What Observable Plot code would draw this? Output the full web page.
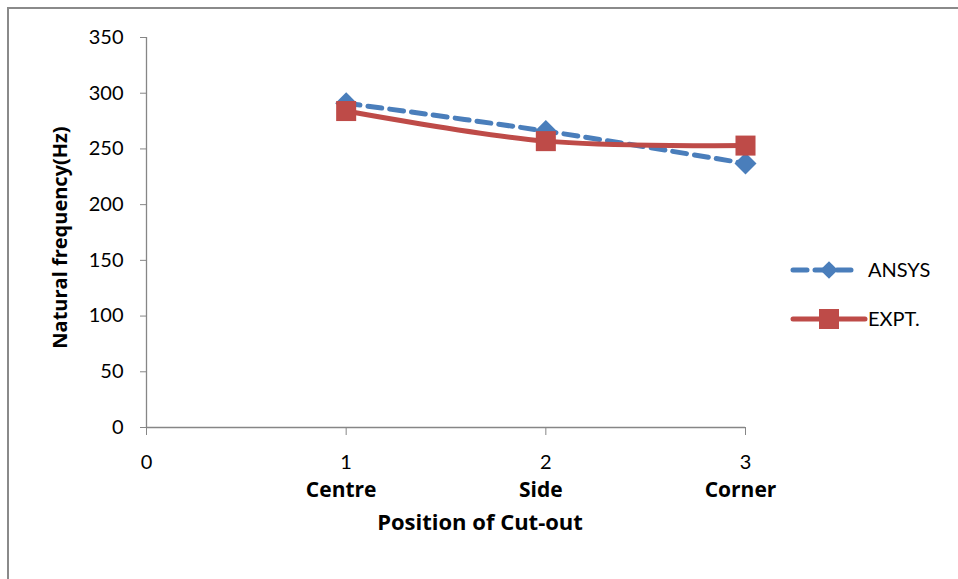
<!DOCTYPE html>
<html>
<head>
<meta charset="utf-8">
<script src="https://cdn.jsdelivr.net/npm/d3@7"></script>
<script src="https://cdn.jsdelivr.net/npm/@observablehq/plot@0.6"></script>
<style>
  html, body { margin: 0; padding: 0; background: #fff; }
  #chart { position: relative; width: 958px; height: 579px; overflow: hidden; font-family: Lato, "Open Sans", sans-serif; }
  #frame { position: absolute; left: 7px; top: 7px; width: 1000px; height: 1000px; border-top: 2px solid #8a8a8a; border-left: 2px solid #8a8a8a; box-sizing: border-box; pointer-events: none; }
  #chart > svg.plot-main { position: absolute; left: 0; top: 0; }
  #chart > svg#legend { position: absolute; left: 780px; top: 245px; }
</style>
</head>
<body>
<div id="chart"><div id="frame"></div></div>
<script>
// Natural frequency of the plate for each cut-out position
const positions = [1, 2, 3];
const positionNames = ["Centre", "Side", "Corner"];
const ansys = [291, 266, 237];
const expt = [284, 257, 253];
const seriesNames = ["ANSYS", "EXPT."];
const yTicks = [0, 50, 100, 150, 200, 250, 300, 350];
const xTicks = [0, 1, 2, 3];

const blue = "#4a7ebb";
const red = "#be4b48";
const axisGray = "#868686";
const boldFont = "'Open Sans', Lato, sans-serif";

const ansysData = positions.map((p, i) => ({x: p, y: ansys[i]}));
const exptData = positions.map((p, i) => ({x: p, y: expt[i]}));

const plot = Plot.plot({
  width: 958,
  height: 579,
  marginLeft: 146,
  marginRight: 213,
  marginTop: 37,
  marginBottom: 152,
  style: {fontFamily: "Lato, 'Open Sans', sans-serif", fontSize: "20px", color: "black", background: "transparent"},
  x: {domain: [0, 3]},
  y: {domain: [0, 350]},
  marks: [
    Plot.axisY({ticks: yTicks, tickSize: 6, tickPadding: 17, stroke: axisGray, fill: "black", label: null, fontSize: 20}),
    Plot.axisX({ticks: xTicks, tickFormat: d3.format("d"), tickSize: 8, tickPadding: 19, stroke: axisGray, fill: "black", label: null, fontSize: 20}),
    Plot.axisX({ticks: positions, tickFormat: d => positionNames[d - 1], tickSize: 0, tickPadding: 55, dx: -5, fill: "black", fontWeight: "bold", fontFamily: boldFont, label: null, fontSize: 21}),
    Plot.ruleX([0], {stroke: axisGray, strokeWidth: 1.3}),
    Plot.ruleY([0], {stroke: axisGray, strokeWidth: 1.3}),
    Plot.text(["Position of Cut-out"], {frameAnchor: "bottom", dx: 34, dy: 102, fontWeight: "bold", fontFamily: boldFont, fontSize: 22, fill: "black"}),
    Plot.text(["Natural frequency(Hz)"], {frameAnchor: "left", textAnchor: "middle", rotate: -90, dx: -86, dy: 5, fontWeight: "bold", fontFamily: boldFont, fontSize: 20, fill: "black"}),
    Plot.line(ansysData, {x: "x", y: "y", stroke: blue, strokeWidth: 5, strokeDasharray: "14 8", curve: "catmull-rom"}),
    Plot.dot(ansysData, {x: "x", y: "y", symbol: "diamond2", r: 9.9, fill: blue, stroke: "none"}),
    Plot.line(exptData, {x: "x", y: "y", stroke: red, strokeWidth: 5, curve: "catmull-rom"}),
    Plot.dot(exptData, {x: "x", y: "y", symbol: "square", r: 11.3, fill: red, stroke: "none"})
  ]
});
plot.classList.add("plot-main");
document.getElementById("chart").appendChild(plot);

// Legend: line sample with marker, followed by the series name
const legend = d3.select("#chart").append("svg")
  .attr("id", "legend")
  .attr("width", 170)
  .attr("height", 100)
  .style("font-family", "Lato, 'Open Sans', sans-serif");
const items = [
  {name: seriesNames[0], color: blue, dash: "14 8", symbol: d3.symbolDiamond2, size: 200},
  {name: seriesNames[1], color: red, dash: null, symbol: d3.symbolSquare, size: 400}
];
items.forEach((it, i) => {
  const g = legend.append("g").attr("transform", `translate(0, ${25 + i * 49})`);
  g.append("line").attr("x1", 13).attr("x2", i === 0 ? 76 : 85).attr("y1", 0).attr("y2", 0)
    .attr("stroke", it.color).attr("stroke-width", 5)
    .attr("stroke-dasharray", it.dash).attr("stroke-linecap", "round");
  g.append("path").attr("d", d3.symbol(it.symbol, it.size)()).attr("transform", "translate(49,0)").attr("fill", it.color);
  g.append("text").attr("x", 88).attr("y", 0).attr("dy", "0.35em").attr("font-size", 20).attr("fill", "black").text(it.name);
});
</script>
</body>
</html>
